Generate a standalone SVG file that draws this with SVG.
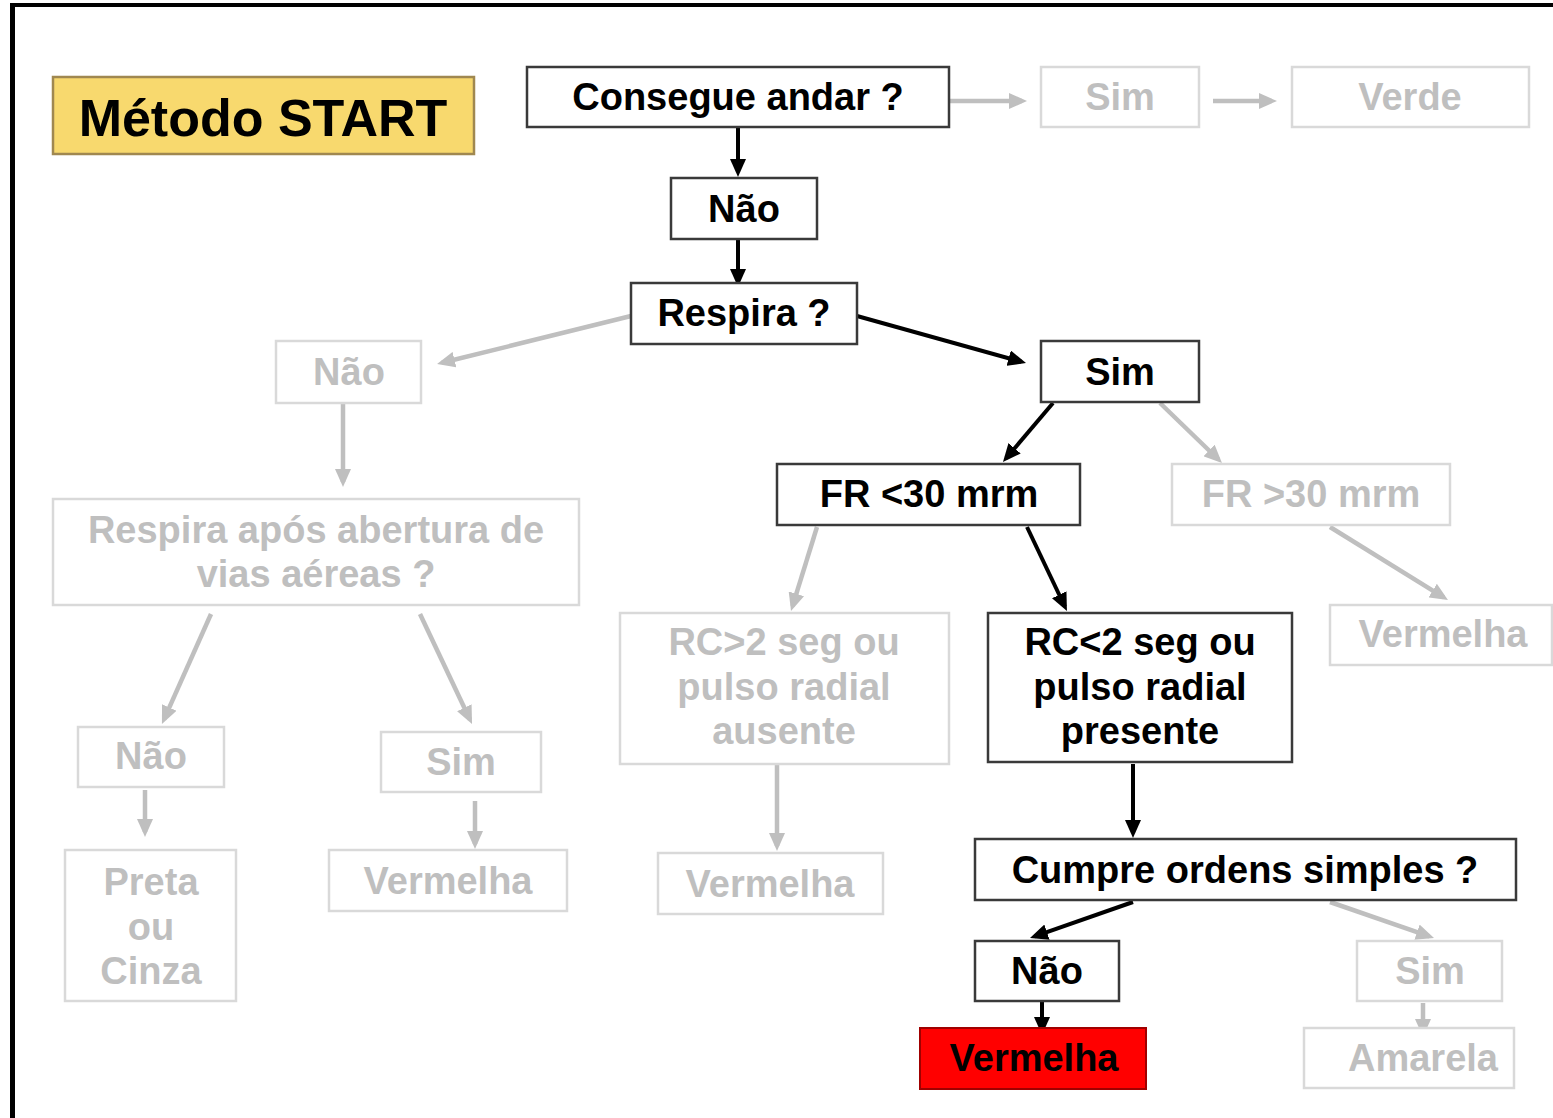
<svg xmlns="http://www.w3.org/2000/svg" width="1553" height="1118" viewBox="0 0 1553 1118">
<defs>
<marker id="ab" viewBox="0 0 18 16" markerWidth="18" markerHeight="16" refX="13" refY="8" orient="auto" markerUnits="userSpaceOnUse"><path d="M0,0 L18,8 L0,16 z" fill="#000"/></marker>
<marker id="ag" viewBox="0 0 18 16" markerWidth="18" markerHeight="16" refX="13" refY="8" orient="auto" markerUnits="userSpaceOnUse"><path d="M0,0 L18,8 L0,16 z" fill="#BFBFBF"/></marker>
</defs>
<style>
.bb{fill:#fff;stroke:#3a3a3a;stroke-width:2.5}
.gb{fill:#fff;stroke:#D9D9D9;stroke-width:2.5}
.t{font-family:"Liberation Sans",Arial,sans-serif;font-weight:bold;font-size:38px;text-anchor:middle}
.tb{fill:#000}
.tg{fill:#BFBFBF}
.cb{stroke:#000;stroke-width:4;fill:none;marker-end:url(#ab)}
.cg{stroke:#BFBFBF;stroke-width:4.5;fill:none;marker-end:url(#ag)}
</style>
<rect width="1553" height="1118" fill="#fff"/>
<g id="frame">
<line x1="10" y1="5" x2="1553" y2="5" stroke="#000" stroke-width="4"/>
<line x1="12.5" y1="3" x2="12.5" y2="1118" stroke="#000" stroke-width="5"/>
</g>
<g id="title">
<rect x="53" y="77" width="421" height="77" fill="#F8D96E" stroke="#A08850" stroke-width="2.5"/>
<text x="263" y="136" class="t tb" style="font-size:52px">Método START</text>
</g>
<g id="connectors">
<line class="cg" x1="950" y1="101" x2="1022" y2="101"/>
<line class="cg" x1="1213" y1="101" x2="1272" y2="101"/>
<line class="cb" x1="738" y1="127" x2="738" y2="172"/>
<line class="cb" x1="738" y1="239" x2="738" y2="282"/>
<line class="cg" x1="631" y1="316" x2="441.9" y2="362.8"/>
<line class="cb" x1="857" y1="316" x2="1021.2" y2="361.7"/>
<line class="cg" x1="343" y1="403" x2="343" y2="482"/>
<line class="cb" x1="1053" y1="403" x2="1006.2" y2="458.2"/>
<line class="cg" x1="1160" y1="403" x2="1218.4" y2="459.5"/>
<line class="cg" x1="817" y1="527" x2="792.5" y2="606.2"/>
<line class="cb" x1="1027" y1="527" x2="1064.8" y2="606.5"/>
<line class="cg" x1="1330" y1="527" x2="1443.7" y2="597.4"/>
<line class="cg" x1="211" y1="614" x2="164" y2="719.4"/>
<line class="cg" x1="420" y1="614" x2="469.9" y2="719.5"/>
<line class="cg" x1="145" y1="790" x2="145" y2="832"/>
<line class="cg" x1="475" y1="801" x2="475" y2="844"/>
<line class="cg" x1="777" y1="764" x2="777" y2="846"/>
<line class="cb" x1="1133" y1="764" x2="1133" y2="833"/>
<line class="cb" x1="1133" y1="902" x2="1034.7" y2="936.4"/>
<line class="cg" x1="1330" y1="902" x2="1429.3" y2="936.4"/>
<line class="cb" x1="1042" y1="1001" x2="1042" y2="1030"/>
<line class="cg" x1="1423" y1="1003" x2="1423" y2="1032"/>
</g>
<g id="consegue"><rect class="bb" x="527" y="67" width="422" height="60"/><text class="t tb" x="738" y="110">Consegue andar ?</text></g>
<g id="sim1"><rect class="gb" x="1041" y="67" width="158" height="60"/><text class="t tg" x="1120" y="110">Sim</text></g>
<g id="verde"><rect class="gb" x="1292" y="67" width="237" height="60"/><text class="t tg" x="1410" y="110">Verde</text></g>
<g id="nao1"><rect class="bb" x="671" y="178" width="146" height="61"/><text class="t tb" x="744" y="222">Não</text></g>
<g id="respira"><rect class="bb" x="631" y="283" width="226" height="61"/><text class="t tb" x="744" y="326">Respira ?</text></g>
<g id="nao2"><rect class="gb" x="276" y="341" width="145" height="62"/><text class="t tg" x="349" y="385">Não</text></g>
<g id="sim2"><rect class="bb" x="1041" y="341" width="158" height="61"/><text class="t tb" x="1120" y="385">Sim</text></g>
<g id="respira2"><rect class="gb" x="53" y="499" width="526" height="106"/><text class="t tg" x="316" y="543">Respira após abertura de</text><text class="t tg" x="316" y="587">vias aéreas ?</text></g>
<g id="fr30a"><rect class="bb" x="777" y="464" width="303" height="61"/><text class="t tb" x="929" y="507">FR &lt;30 mrm</text></g>
<g id="fr30b"><rect class="gb" x="1172" y="464" width="278" height="61"/><text class="t tg" x="1311" y="507">FR &gt;30 mrm</text></g>
<g id="rcmaior"><rect class="gb" x="620" y="613" width="329" height="151"/><text class="t tg" x="784" y="655">RC&gt;2 seg ou</text><text class="t tg" x="784" y="700">pulso radial</text><text class="t tg" x="784" y="744">ausente</text></g>
<g id="rcmenor"><rect class="bb" x="988" y="613" width="304" height="149"/><text class="t tb" x="1140" y="655">RC&lt;2 seg ou</text><text class="t tb" x="1140" y="700">pulso radial</text><text class="t tb" x="1140" y="744">presente</text></g>
<g id="verm1"><rect class="gb" x="1330" y="605" width="222" height="60"/><text class="t tg" x="1443" y="647">Vermelha</text></g>
<g id="nao3"><rect class="gb" x="78" y="727" width="146" height="60"/><text class="t tg" x="151" y="769">Não</text></g>
<g id="sim3"><rect class="gb" x="381" y="732" width="160" height="60"/><text class="t tg" x="461" y="775">Sim</text></g>
<g id="preta"><rect class="gb" x="65" y="850" width="171" height="151"/><text class="t tg" x="151" y="895">Preta</text><text class="t tg" x="151" y="940">ou</text><text class="t tg" x="151" y="984">Cinza</text></g>
<g id="verm2"><rect class="gb" x="329" y="850" width="238" height="61"/><text class="t tg" x="448" y="894">Vermelha</text></g>
<g id="verm3"><rect class="gb" x="658" y="853" width="225" height="61"/><text class="t tg" x="770" y="897">Vermelha</text></g>
<g id="cumpre"><rect class="bb" x="975" y="839" width="541" height="61"/><text class="t tb" x="1245" y="883">Cumpre ordens simples ?</text></g>
<g id="nao4"><rect class="bb" x="975" y="941" width="144" height="60"/><text class="t tb" x="1047" y="984">Não</text></g>
<g id="sim4"><rect class="gb" x="1357" y="941" width="145" height="60"/><text class="t tg" x="1430" y="984">Sim</text></g>
<g id="vermred"><rect x="920" y="1028" width="226" height="61" fill="#FF0000" stroke="#A00000" stroke-width="2"/><text class="t tb" x="1034" y="1071">Vermelha</text></g>
<g id="amarela"><rect class="gb" x="1304" y="1028" width="210" height="60"/><text class="t tg" x="1423" y="1071">Amarela</text></g>
</svg>
